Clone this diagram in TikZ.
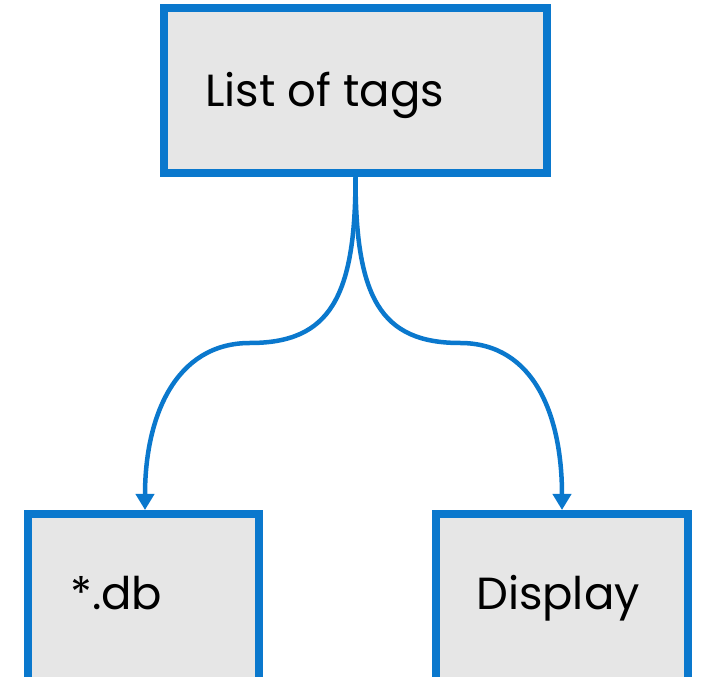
\documentclass[tikz,border=0pt]{standalone}
\usepackage{fontspec}
\setmainfont{Poppins}
\usetikzlibrary{arrows.meta}
\definecolor{bblue}{HTML}{0A78CD}
\definecolor{bfill}{HTML}{E6E6E6}
\begin{document}
\begin{tikzpicture}[x=1pt,y=1pt,
  box/.style={draw=bblue,fill=bfill,line width=8pt,inner sep=0pt},
  lbl/.style={anchor=base west,inner sep=0pt,font=\fontsize{45}{50}\selectfont},
  conn/.style={draw=bblue,line width=4.5pt,-{Triangle[width=18pt,length=16pt]}}]
\useasboundingbox (0,0) rectangle (702,677);
\clip (0,0) rectangle (702,677);
\node[box,minimum width=383pt,minimum height=165pt] (top) at (355.5,586.5) {};
\node[box,minimum width=231pt,minimum height=176pt] (db) at (143.5,75) {};
\node[box,minimum width=252pt,minimum height=176pt] (disp) at (562,75) {};
\node[lbl] (t1) at (205,570) {List of tags};
\node[lbl] (t2) at (70,67) {*.db};
\node[lbl] (t3) at (476,67) {Display};
\coordinate (ml) at (250,334);
\coordinate (mr) at (460,334);
\draw[conn] (top.south) .. controls ++(0,-120) and (330,334) .. (ml) .. controls (175,334) and (145,260) .. (145,167);
\draw[conn] (top.south) .. controls ++(0,-120) and (380,334) .. (mr) .. controls (535,334) and (562,260) .. (562,167);
\end{tikzpicture}
\end{document}
